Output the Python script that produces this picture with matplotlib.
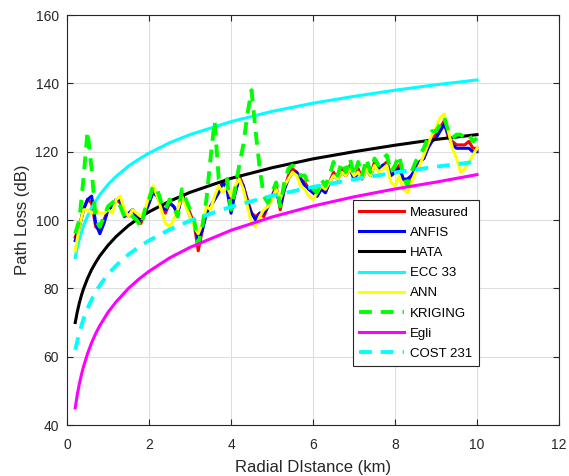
import numpy as np
import matplotlib.pyplot as plt

plt.rcParams['font.family'] = ['Liberation Sans', 'DejaVu Sans']

# radial distance grid for the measured / predicted series (km)
d = [0.2, 0.3, 0.4, 0.5, 0.6, 0.7, 0.8, 0.9, 1.0, 1.1,
     1.2, 1.3, 1.4, 1.5, 1.6, 1.7, 1.8, 1.9, 2.0, 2.1,
     2.2, 2.3, 2.4, 2.5, 2.6, 2.7, 2.8, 2.9, 3.0, 3.1,
     3.2, 3.3, 3.4, 3.5, 3.6, 3.7, 3.8, 3.9, 4.0, 4.1,
     4.2, 4.3, 4.4, 4.5, 4.6, 4.7, 4.8, 4.9, 5.0, 5.1,
     5.2, 5.3, 5.4, 5.5, 5.6, 5.7, 5.8, 5.9, 6.0, 6.1,
     6.2, 6.3, 6.4, 6.5, 6.6, 6.7, 6.8, 6.9, 7.0, 7.1,
     7.2, 7.3, 7.4, 7.5, 7.6, 7.7, 7.8, 7.9, 8.0, 8.1,
     8.2, 8.3, 8.4, 8.5, 8.6, 8.7, 8.8, 8.9, 9.0, 9.1,
     9.2, 9.3, 9.4, 9.5, 9.6, 9.7, 9.8, 9.9, 10.0]

measured = [95, 98, 103, 106, 105, 98, 97, 100, 103, 104,
            106, 105, 102, 101, 103, 101, 99, 102, 105, 109,
            107, 104, 102, 105, 104, 102, 108, 105, 102, 99,
            91, 97, 103, 104, 106, 109, 111, 110, 104, 108,
            113, 110, 106, 102, 101, 102, 101, 104, 107, 110,
            103, 109, 113, 115, 114, 112, 111, 109, 108, 107,
            110, 108, 111, 114, 112, 115, 113, 116, 112, 115,
            112, 116, 113, 117, 115, 116, 117, 113, 114, 116,
            112, 111, 113, 115, 117, 118, 121, 124, 125, 127,
            129, 124, 123, 122, 122, 122, 123, 121, 121]

anfis = [94, 98, 103, 106, 107, 99, 96, 99, 103, 104,
         106, 106, 101, 102, 103, 101, 100, 102, 105, 108,
         107, 104, 103, 105, 104, 102, 107, 105, 101, 99,
         94, 97, 102, 104, 106, 108, 111, 109, 102, 108,
         112, 110, 105, 102, 100, 102, 102, 104, 107, 109,
         104, 109, 112, 114, 114, 112, 110, 109, 108, 107,
         109, 108, 111, 113, 112, 114, 113, 115, 112, 114,
         112, 115, 113, 116, 115, 116, 116, 113, 114, 115,
         112, 112, 113, 115, 117, 118, 121, 123, 124, 126,
         128, 125, 122, 121, 121, 121, 121, 120, 120]

ann = [91, 98, 103, 103, 102, 103, 102, 102, 103, 102,
       106, 107, 103, 101, 103, 102, 101, 103, 107, 110,
       107, 103, 99, 98, 100, 103, 107, 104, 101, 98,
       96, 99, 104, 103, 107, 110, 108, 110, 107, 110,
       112, 109, 104, 99, 98, 101, 103, 104, 106, 109,
       106, 110, 112, 114, 113, 110, 109, 107, 106, 108,
       110, 109, 111, 113, 112, 114, 113, 115, 113, 114,
       112, 115, 113, 116, 114, 115, 116, 111, 110, 113,
       109, 108, 111, 114, 116, 119, 122, 125, 127, 130,
       131, 126, 121, 118, 114, 115, 117, 119, 121]

kriging = [96, 100, 112, 126, 115, 100, 98, 101, 104, 105,
           106, 104, 101, 102, 101, 100, 98, 103, 106, 110,
           109, 105, 103, 106, 104, 101, 109, 106, 103, 100,
           93, 98, 106, 118, 129, 112, 111, 112, 103, 109,
           116, 122, 131, 138, 126, 115, 107, 105, 108, 111,
           104, 111, 115, 116, 115, 113, 113, 110, 109, 108,
           112, 110, 113, 117, 113, 117, 114, 118, 113, 117,
           113, 118, 114, 118, 116, 118, 119, 114, 116, 119,
           113, 110, 114, 117, 119, 121, 124, 126, 126, 128,
           130, 126, 124, 125, 125, 124, 125, 123, 124]

# empirical model curves, read at these distances (km)
d_model = [0.2, 0.25, 0.3, 0.35, 0.4, 0.5, 0.6, 0.7, 0.8, 1.0,
           1.2, 1.5, 1.75, 2.0, 2.5, 3.0, 4.0, 5.0, 6.0, 7.0,
           8.0, 9.0, 10.0]
hata = [70, 73.1, 75.7, 77.9, 79.8, 82.9, 85.5, 87.6, 89.5, 92.6,
        95.2, 98.4, 100.5, 102.4, 105.5, 108.1, 112.2, 115.3, 117.9, 120.0,
        121.9, 123.6, 125.0]
ecc33 = [89, 92.0, 94.4, 96.4, 98.2, 101.2, 103.6, 105.6, 107.4, 110.4,
         112.8, 115.8, 117.8, 119.6, 122.6, 125.0, 128.8, 131.8, 134.2, 136.2,
         138.0, 139.6, 141.0]
egli = [45, 48.9, 52.0, 54.7, 57.0, 60.9, 64.1, 66.8, 69.1, 73.0,
        76.1, 80.0, 82.7, 85.0, 88.9, 92.0, 97.0, 100.9, 104.1, 106.8,
        109.1, 111.1, 113.3]
cost231 = [62, 64.5, 67.0, 69.0, 71.0, 74.1, 76.7, 79.0, 80.9, 84.1,
           86.7, 89.9, 92.1, 94.0, 97.2, 99.8, 103.9, 107.1, 109.7, 111.9,
           113.9, 115.6, 117.1]

fig = plt.figure(figsize=(5.69, 4.76), dpi=100)
ax = fig.add_axes([0.1178, 0.1071, 0.8647, 0.8613])

lw = 2.2
dash = (0, (3.3, 2.3))
ax.plot(d, measured, color='red', lw=lw, label='Measured')
ax.plot(d, anfis, color='blue', lw=lw, label='ANFIS')
ax.plot(d_model, hata, color='black', lw=lw, label='HATA')
ax.plot(d_model, ecc33, color='cyan', lw=lw, label='ECC 33')
ax.plot(d, ann, color='yellow', lw=lw, label='ANN')
ax.plot(d, kriging, color='lime', lw=lw + 0.6, ls=dash, label='KRIGING')
ax.plot(d_model, egli, color='magenta', lw=lw, label='Egli')
ax.plot(d_model, cost231, color='cyan', lw=lw + 0.6, ls=dash, label='COST 231')

ax.set_xlim(0, 12)
ax.set_ylim(40, 160)
ax.set_xticks(range(0, 13, 2))
ax.set_yticks(range(40, 161, 20))
ax.grid(True, color='#dedede', lw=0.8)
ax.set_axisbelow(True)
ax.tick_params(direction='in', length=4, top=True, right=True,
               labelsize=10, colors='#262626')
ax.tick_params(axis='x', pad=9)
ax.tick_params(axis='y', pad=6)
for s in ax.spines.values():
    s.set_color('#262626')
    s.set_linewidth(0.8)

ax.set_xlabel('Radial DIstance (km)', fontsize=12, color='#262626', labelpad=6)
ax.set_ylabel('Path Loss (dB)', fontsize=12, color='#262626', labelpad=4)

leg = ax.legend(loc='upper left', bbox_to_anchor=(0.581, 0.549),
                fontsize=9.5, handlelength=3.4, handletextpad=0.45,
                labelspacing=0.6, borderpad=0.5, borderaxespad=0,
                fancybox=False, framealpha=1, edgecolor='#262626')
leg.get_frame().set_linewidth(0.8)

fig.savefig('out.png', dpi=100)
